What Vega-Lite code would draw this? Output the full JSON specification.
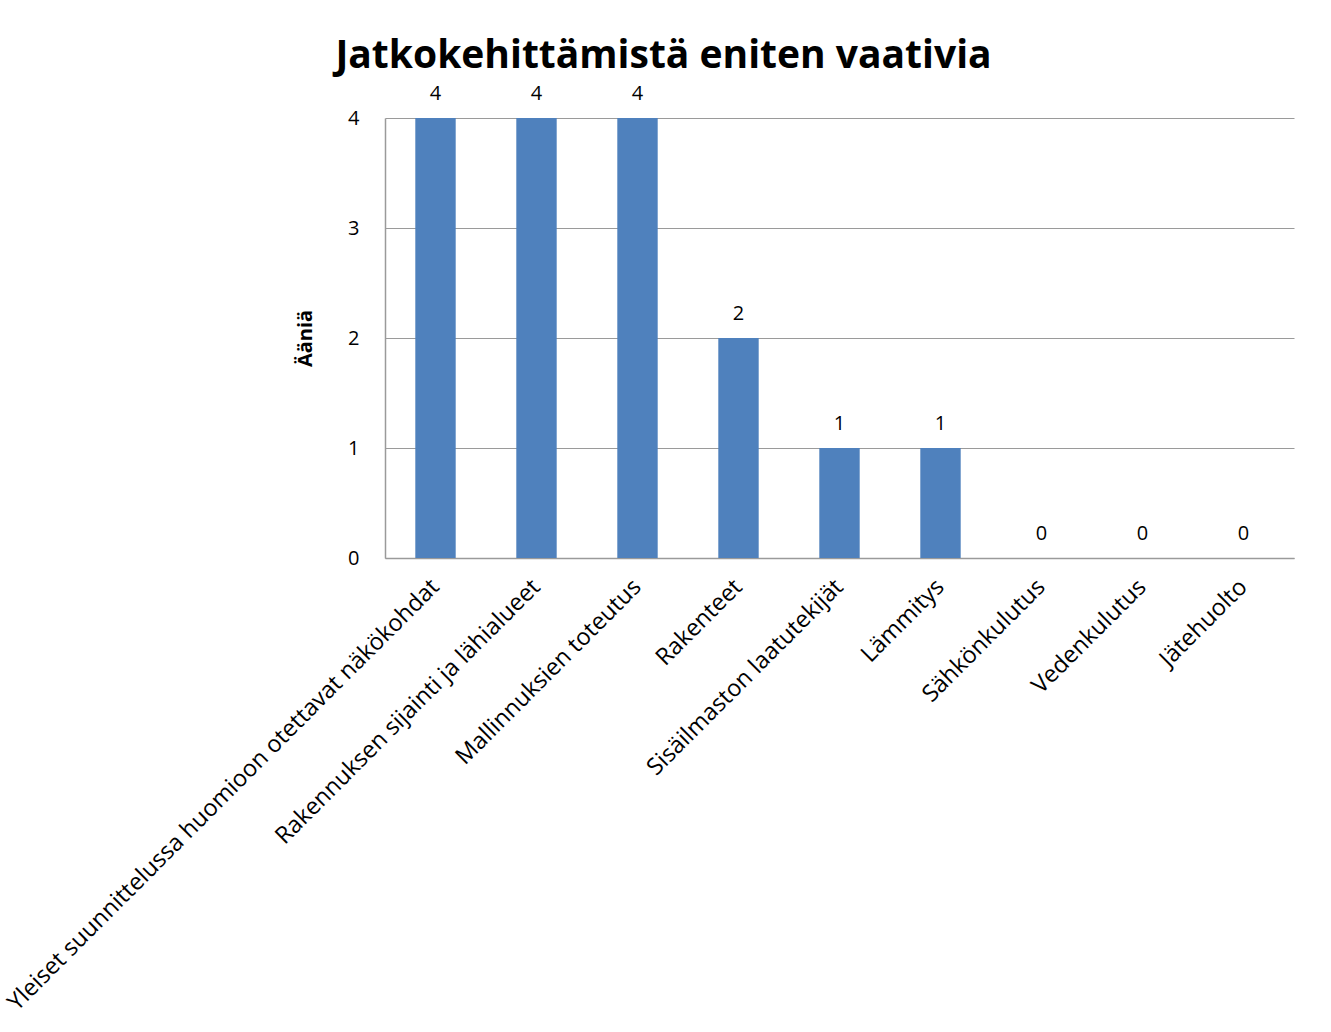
{
  "$schema": "https://vega.github.io/schema/vega-lite/v6.json",
  "width": 909,
  "height": 440,
  "autosize": "none",
  "padding": {"left": 385, "top": 118, "right": 37, "bottom": 474},
  "background": "white",
  "data": {"values": [
    {"kohde": "Yleiset suunnittelussa huomioon otettavat näkökohdat", "aania": 4},
    {"kohde": "Rakennuksen sijainti ja lähialueet", "aania": 4},
    {"kohde": "Mallinnuksien toteutus", "aania": 4},
    {"kohde": "Rakenteet", "aania": 2},
    {"kohde": "Sisäilmaston laatutekijät", "aania": 1},
    {"kohde": "Lämmitys", "aania": 1},
    {"kohde": "Sähkönkulutus", "aania": 0},
    {"kohde": "Vedenkulutus", "aania": 0},
    {"kohde": "Jätehuolto", "aania": 0}
  ]},
  "title": {
    "text": "Jatkokehittämistä eniten vaativia",
    "font": "Open Sans",
    "fontSize": 39,
    "fontWeight": "bold",
    "color": "#000000",
    "anchor": "middle",
    "dx": -176,
    "offset": 8
  },
  "config": {
    "view": {"stroke": null},
    "font": "Open Sans"
  },
  "encoding": {
    "x": {
      "field": "kohde",
      "type": "nominal",
      "sort": null,
      "scale": {"paddingInner": 0.6, "paddingOuter": 0.3},
      "axis": {
        "title": null,
        "labelAngle": -45,
        "labelAlign": "right",
        "labelBaseline": "middle",
        "labelFontSize": 23.5,
        "labelFont": "Open Sans",
        "labelColor": "#000000",
        "labelLimit": 900,
        "labelPadding": 25,
        "ticks": false,
        "domainColor": "#9a9a9a",
        "domainWidth": 1.5
      }
    },
    "y": {
      "field": "aania",
      "type": "quantitative",
      "scale": {"domain": [0, 4]},
      "axis": {
        "title": "Ääniä",
        "titleFont": "Open Sans",
        "titleFontSize": 20,
        "titleFontWeight": "bold",
        "titleColor": "#000000",
        "titlePadding": 32,
        "values": [0, 1, 2, 3, 4],
        "format": "d",
        "labelFontSize": 20,
        "labelFont": "Open Sans",
        "labelColor": "#000000",
        "labelPadding": 26,
        "ticks": false,
        "domainColor": "#9a9a9a",
        "domainWidth": 1.5,
        "gridColor": "#9a9a9a",
        "gridWidth": 1.2
      }
    }
  },
  "layer": [
    {
      "mark": {"type": "bar", "color": "#4F81BD"}
    },
    {
      "mark": {"type": "text", "dy": -14, "baseline": "bottom", "fontSize": 20, "font": "Open Sans", "color": "#000000"},
      "encoding": {"text": {"field": "aania", "type": "quantitative"}}
    }
  ]
}
